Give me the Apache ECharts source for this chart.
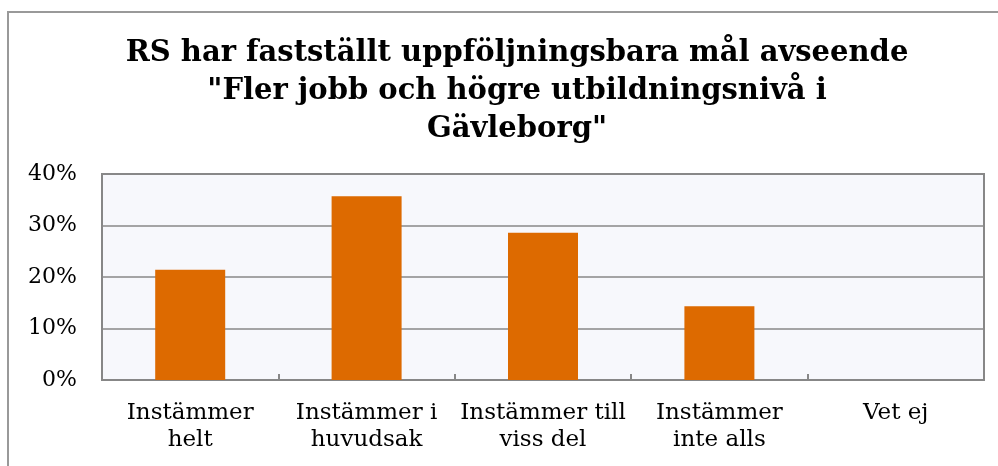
<!DOCTYPE html>
<html>
<head>
<meta charset="utf-8">
<script src="https://cdn.jsdelivr.net/npm/echarts@6/dist/echarts.min.js"></script>
<style>
  html, body { margin: 0; padding: 0; background: #fff; }
  #chart { width: 998px; height: 466px; }
</style>
</head>
<body>
<div id="chart"></div>
<script>
// kategorier och andelar (14 svar)
const categories = ['Instämmer\nhelt', 'Instämmer i\nhuvudsak', 'Instämmer till\nviss del', 'Instämmer\ninte alls', 'Vet ej']
const values = [0.214, 0.357, 0.286, 0.143, 0]
const yTicks = [0, 0.1, 0.2, 0.3, 0.4]

const font = 'DejaVu Serif'
const chart = echarts.init(document.getElementById('chart'))

const option = {
    animation: false,
    backgroundColor: '#fff',
    title: {
        text: 'RS har fastställt uppföljningsbara mål avseende\n"Fler jobb och högre utbildningsnivå i\nGävleborg"',
        left: 512,
        top: 29,
        textAlign: 'center',
        textStyle: {
            fontFamily: font,
            fontWeight: 'bold',
            fontSize: 29,
            lineHeight: 38,
            color: '#000'
        }
    },
    // yttre ram
    graphic: [{
        type: 'rect',
        shape: { x: 8, y: 12, width: 1200, height: 600 },
        style: { fill: 'none', stroke: '#999', lineWidth: 2 },
        silent: true
    }],
    grid: {
        left: 102,
        right: 14,
        top: 174,
        bottom: 86,
        show: true,
        backgroundColor: '#f7f8fc',
        borderColor: '#878787',
        borderWidth: 2
    },
    xAxis: {
        type: 'category',
        data: categories,
        axisLine: { lineStyle: { color: '#878787', width: 2 } },
        axisTick: { show: true, inside: true, length: 6, interval: 0, lineStyle: { color: '#878787', width: 2 } },
        axisLabel: {
            interval: 0,
            margin: 20,
            fontFamily: font,
            fontSize: 23,
            lineHeight: 27,
            color: '#000'
        }
    },
    yAxis: {
        type: 'value',
        min: yTicks[0],
        max: yTicks[yTicks.length - 1],
        interval: 0.1,
        axisLine: { show: false },
        axisTick: { show: false },
        splitLine: { lineStyle: { color: '#888', width: 1.5 } },
        axisLabel: {
            margin: 25,
            fontFamily: font,
            fontSize: 22,
            color: '#000',
            formatter: v => Math.round(v * 100) + '%'
        }
    },
    series: [{
        type: 'bar',
        data: values,
        barWidth: 70,
        itemStyle: { color: '#dd6a00' }
    }]
}
chart.setOption(option)
</script>
</body>
</html>
